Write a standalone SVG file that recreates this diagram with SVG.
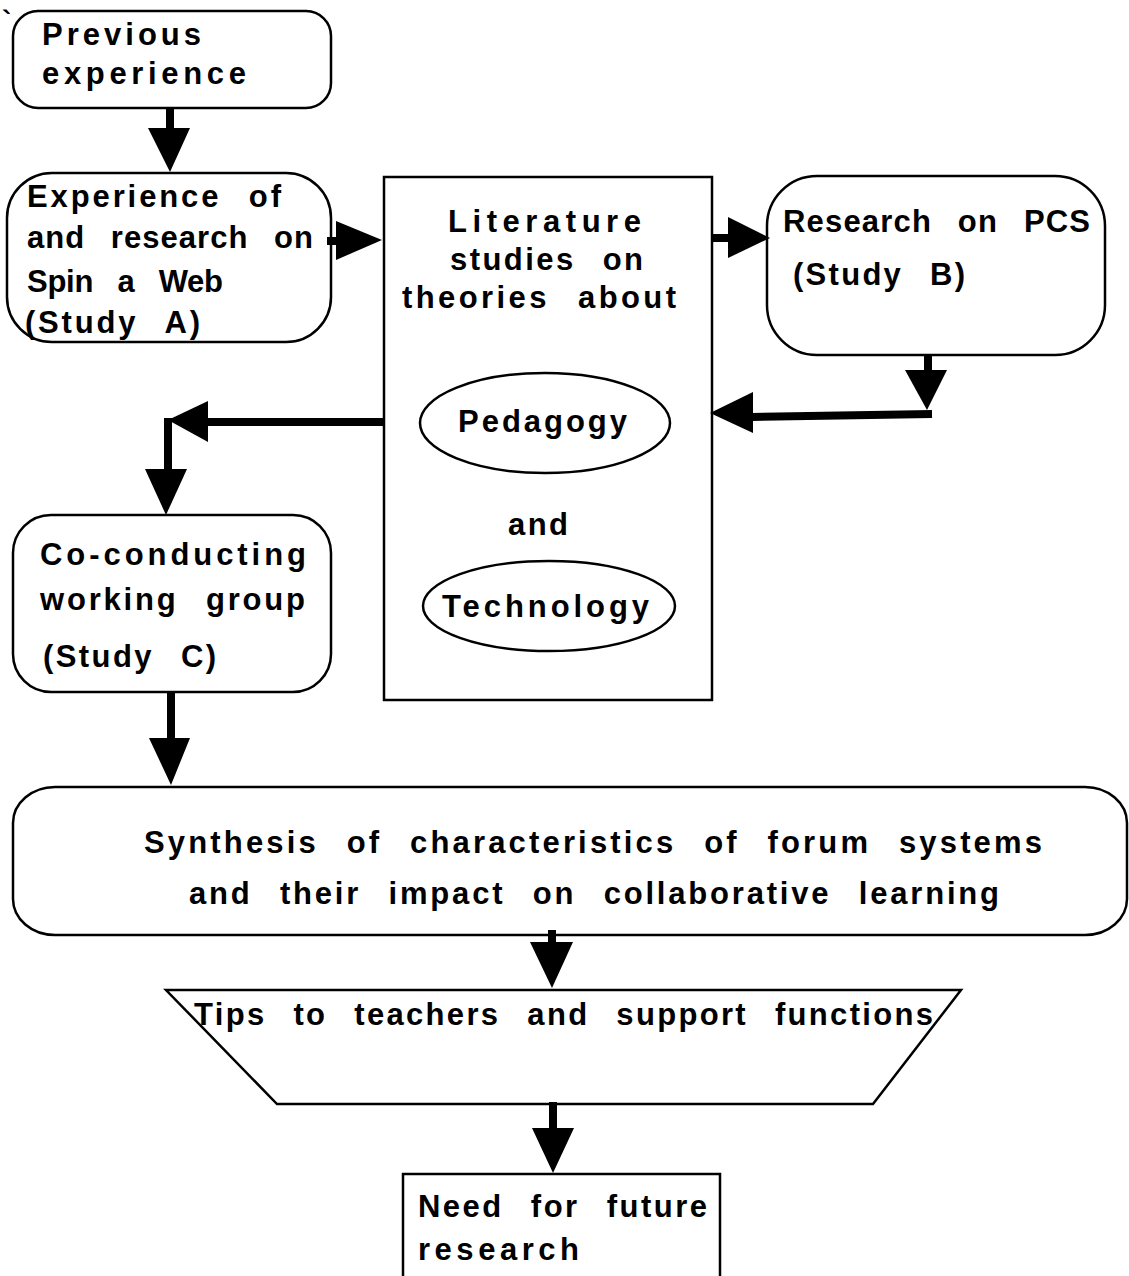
<svg xmlns="http://www.w3.org/2000/svg" width="1129" height="1276" viewBox="0 0 1129 1276">
  <style>
    .box { fill: #fff; stroke: #000; stroke-width: 2.5; }
    .t { font-family: "Liberation Sans", Arial, sans-serif; font-weight: bold; font-size: 31px; fill: #000; letter-spacing: 2px; word-spacing: 16px; }
    .shaft { fill: none; stroke: #000; stroke-width: 8; }
    .head { fill: #000; stroke: none; }
  </style>
  <rect x="0" y="0" width="1129" height="1276" fill="#fff"/>

  <text x="2" y="30" style="font-family: 'Liberation Sans', Arial, sans-serif; font-size: 28px; font-weight: bold;">`</text>

  <g id="previous-experience">
    <rect class="box" x="13" y="11" width="318" height="97" rx="25" ry="25"/>
    <text class="t" x="42" y="45" textLength="161" lengthAdjust="spacing">Previous</text>
    <text class="t" x="42" y="84" textLength="206" lengthAdjust="spacing">experience</text>
  </g>

  <g id="study-a">
    <rect class="box" x="7" y="173" width="324" height="169" rx="45" ry="45"/>
    <text class="t" x="27" y="207" textLength="256" lengthAdjust="spacing">Experience of</text>
    <text class="t" x="27" y="248" textLength="288" lengthAdjust="spacing">and research on</text>
    <text class="t" x="27" y="292" textLength="198" lengthAdjust="spacing">Spin a Web</text>
    <text class="t" x="25" y="333" textLength="177" lengthAdjust="spacing">(Study A)</text>
  </g>

  <g id="literature">
    <rect class="box" x="384" y="177" width="328" height="523"/>
    <text class="t" x="448" y="232" textLength="195" lengthAdjust="spacing">Literature</text>
    <text class="t" x="450" y="270" textLength="195" lengthAdjust="spacing">studies on</text>
    <text class="t" x="402" y="308" textLength="276" lengthAdjust="spacing">theories about</text>
    <ellipse class="box" cx="545" cy="423" rx="125" ry="50"/>
    <text class="t" x="458" y="432" textLength="171" lengthAdjust="spacing">Pedagogy</text>
    <text class="t" x="508" y="535" textLength="62" lengthAdjust="spacing">and</text>
    <ellipse class="box" cx="549" cy="606" rx="126" ry="45"/>
    <text class="t" x="442" y="617" textLength="209" lengthAdjust="spacing">Technology</text>
  </g>

  <g id="study-b">
    <rect class="box" x="767" y="176" width="338" height="179" rx="50" ry="50"/>
    <text class="t" x="783" y="232" textLength="309" lengthAdjust="spacing">Research on PCS</text>
    <text class="t" x="793" y="285" textLength="174" lengthAdjust="spacing">(Study B)</text>
  </g>

  <g id="study-c">
    <rect class="box" x="13" y="515" width="318" height="177" rx="38" ry="38"/>
    <text class="t" x="40" y="565" textLength="268" lengthAdjust="spacing">Co-conducting</text>
    <text class="t" x="40" y="610" textLength="267" lengthAdjust="spacing">working group</text>
    <text class="t" x="43" y="667" textLength="175" lengthAdjust="spacing">(Study C)</text>
  </g>

  <g id="synthesis">
    <rect class="box" x="13" y="787" width="1114" height="148" rx="42" ry="36"/>
    <text class="t" x="144" y="853" textLength="900" lengthAdjust="spacing">Synthesis of characteristics of forum systems</text>
    <text class="t" x="189" y="904" textLength="812" lengthAdjust="spacing">and their impact on collaborative learning</text>
  </g>

  <g id="tips">
    <polygon class="box" points="166,990 961,990 873,1104 277,1104"/>
    <text class="t" x="194" y="1025" textLength="741" lengthAdjust="spacing">Tips to teachers and support functions</text>
  </g>

  <g id="future-research">
    <path class="box" d="M403,1280 V1174 H720 V1280"/>
    <text class="t" x="418" y="1217" textLength="291" lengthAdjust="spacing">Need for future</text>
    <text class="t" x="418" y="1260" textLength="163" lengthAdjust="spacing">research</text>
  </g>

  <g id="connectors">
    <!-- previous experience -> study A -->
    <line class="shaft" x1="170" y1="108" x2="170" y2="130"/>
    <polygon class="head" points="148,128 190,128 170,172"/>

    <!-- study A -> literature -->
    <line class="shaft" x1="327" y1="241" x2="337" y2="241"/>
    <polygon class="head" points="336,221 336,260 382,240"/>

    <!-- literature -> study B -->
    <line class="shaft" x1="712" y1="238" x2="729" y2="238"/>
    <polygon class="head" points="728,217 728,258 770,238"/>

    <!-- study B -> literature (return) -->
    <line class="shaft" x1="928" y1="355" x2="928" y2="372"/>
    <polygon class="head" points="905,370 947,370 927,410"/>
    <polyline class="shaft" points="932,414 751,417"/>
    <polygon class="head" points="753,392 753,433 710,413"/>

    <!-- literature -> study C -->
    <polyline class="shaft" points="384,422 206,422"/>
    <polygon class="head" points="208,401 208,442 168,420"/>
    <line class="shaft" x1="168" y1="418" x2="168" y2="471"/>
    <polygon class="head" points="145,469 187,469 166,515"/>

    <!-- study C -> synthesis -->
    <line class="shaft" x1="171" y1="692" x2="171" y2="740"/>
    <polygon class="head" points="149,738 190,738 171,785"/>

    <!-- synthesis -> tips -->
    <line class="shaft" x1="552" y1="930" x2="552" y2="944"/>
    <polygon class="head" points="530,942 573,942 552,988"/>

    <!-- tips -> future research -->
    <line class="shaft" x1="553" y1="1102" x2="553" y2="1130"/>
    <polygon class="head" points="532,1128 574,1128 553,1173"/>
  </g>
</svg>
